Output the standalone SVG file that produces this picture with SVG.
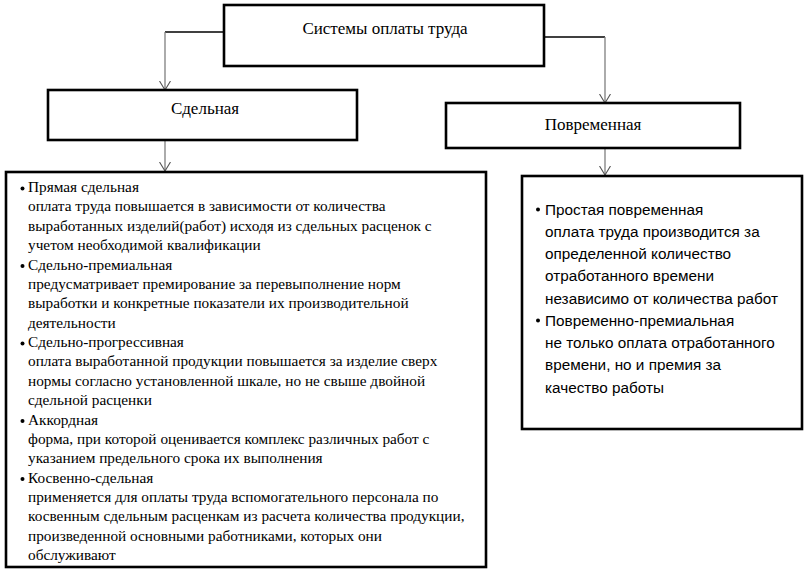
<svg xmlns="http://www.w3.org/2000/svg" width="809" height="573" viewBox="0 0 809 573">
<style>
.box{fill:#fff;stroke:#000;stroke-width:2.6}
.t{font-family:"Liberation Serif","Times New Roman",serif;font-size:17px;fill:#000;text-anchor:middle}
.s{font-family:"Liberation Serif","Times New Roman",serif;font-size:15.3px;fill:#000}
.c{font-family:"Liberation Sans",Arial,sans-serif;font-size:15.3px;fill:#000}
.h{fill:none;stroke:#000;stroke-width:1.3}
.v{fill:none;stroke:#7f7f7f;stroke-width:1.3;marker-end:url(#arr)}
</style>
<defs>
<marker id="arr" markerUnits="userSpaceOnUse" markerWidth="10" markerHeight="12" viewBox="0 0 10 12" refX="9" refY="6" orient="auto">
<path d="M0,0.5 L9,6 L0,11.5" fill="none" stroke="#555" stroke-width="1.1"/>
</marker>
</defs>
<rect width="809" height="573" fill="#fff"/>
<g id="connectors">
<path class="h" d="M224,32 H165"/>
<path class="v" d="M165,32 V90"/>
<path class="h" d="M544,37 H605"/>
<path class="v" d="M605,37 V103"/>
<path class="v" d="M165,140 V171"/>
<path class="v" d="M605,145 V175"/>
</g>
<g id="root">
<rect class="box" x="224" y="5" width="320" height="61"/>
<text class="t" x="385" y="34">Системы оплаты труда</text>
</g>
<g id="piece">
<rect class="box" x="48" y="90" width="309" height="50"/>
<text class="t" x="205" y="114">Сдельная</text>
</g>
<g id="time">
<rect class="box" x="446" y="103" width="294" height="45"/>
<text class="t" x="593" y="130">Повременная</text>
</g>
<g id="piece-list">
<rect class="box" x="6" y="172" width="480" height="395"/>
<g fill="#000">
<circle cx="22.5" cy="188.5" r="2"/>
<circle cx="22.5" cy="266" r="2"/>
<circle cx="22.5" cy="343.5" r="2"/>
<circle cx="22.5" cy="421" r="2"/>
<circle cx="22.5" cy="479" r="2"/>
</g>
<text class="s">
<tspan x="28" y="192">Прямая сдельная</tspan>
<tspan x="28" y="211.4">оплата труда повышается в зависимости от количества</tspan>
<tspan x="28" y="230.8">выработанных изделий(работ) исходя из сдельных расценок с</tspan>
<tspan x="28" y="250.1">учетом необходимой квалификации</tspan>
<tspan x="28" y="269.5">Сдельно-премиальная</tspan>
<tspan x="28" y="288.9">предусматривает премирование за перевыполнение норм</tspan>
<tspan x="28" y="308.2">выработки и конкретные показатели их производительной</tspan>
<tspan x="28" y="327.6">деятельности</tspan>
<tspan x="28" y="347">Сдельно-прогрессивная</tspan>
<tspan x="28" y="366.4">оплата выработанной продукции повышается за изделие сверх</tspan>
<tspan x="28" y="385.7">нормы согласно установленной шкале, но не свыше двойной</tspan>
<tspan x="28" y="405.1">сдельной расценки</tspan>
<tspan x="28" y="424.5">Аккордная</tspan>
<tspan x="28" y="443.9">форма, при которой оценивается комплекс различных работ с</tspan>
<tspan x="28" y="463.2">указанием предельного срока их выполнения</tspan>
<tspan x="28" y="482.6">Косвенно-сдельная</tspan>
<tspan x="28" y="502">применяется для оплаты труда вспомогательного персонала по</tspan>
<tspan x="28" y="521.3">косвенным сдельным расценкам из расчета количества продукции,</tspan>
<tspan x="28" y="540.7">произведенной основными работниками, которых они</tspan>
<tspan x="28" y="560.1">обслуживают</tspan>
</text>
</g>
<g id="time-list">
<rect class="box" x="522" y="176" width="280" height="253"/>
<g fill="#000">
<circle cx="538" cy="209.5" r="2"/>
<circle cx="538" cy="320.5" r="2"/>
</g>
<text class="c">
<tspan x="545" y="214.5">Простая повременная</tspan>
<tspan x="545" y="236.7">оплата труда производится за</tspan>
<tspan x="545" y="259">определенной количество</tspan>
<tspan x="545" y="281.2">отработанного времени</tspan>
<tspan x="545" y="303.5">независимо от количества работ</tspan>
<tspan x="545" y="325.7">Повременно-премиальная</tspan>
<tspan x="545" y="348">не только оплата отработанного</tspan>
<tspan x="545" y="370.2">времени, но и премия за</tspan>
<tspan x="545" y="392.5">качество работы</tspan>
</text>
</g>
</svg>
